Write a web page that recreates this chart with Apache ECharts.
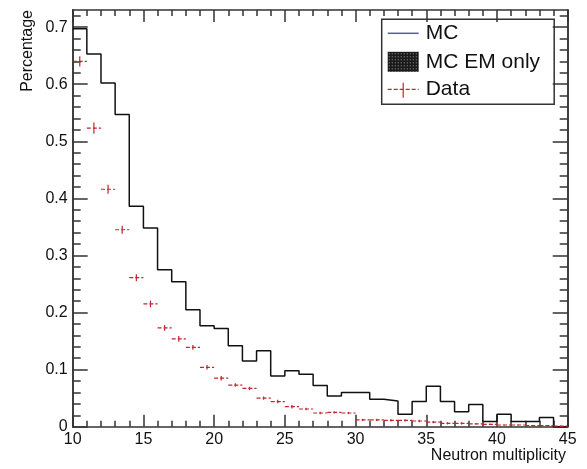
<!DOCTYPE html>
<html>
<head>
<meta charset="utf-8">
<script src="https://cdn.jsdelivr.net/npm/echarts@6/dist/echarts.min.js"></script>
<style>
  html, body { margin: 0; padding: 0; background: #fff; }
  #main { width: 587px; height: 469px; }
</style>
</head>
<body>
<div id="main"></div>
<script>
// bins are 1 wide, lower edges from 10 to 44
var binEdges = [10, 11, 12, 13, 14, 15, 16, 17, 18, 19, 20, 21, 22, 23, 24, 25, 26, 27,
    28, 29, 30, 31, 32, 33, 34, 35, 36, 37, 38, 39, 40, 41, 42, 43, 44, 45];
// MC histogram (black step line)
var mcValues = [0.697, 0.653, 0.602, 0.547, 0.386, 0.348, 0.275, 0.254, 0.205, 0.177,
    0.172, 0.142, 0.115, 0.133, 0.089, 0.098, 0.092, 0.072, 0.054, 0.060,
    0.060, 0.048, 0.045, 0.022, 0.044, 0.071, 0.044, 0.026, 0.039, 0.009,
    0.022, 0.009, 0.009, 0.016, 0.000];
// Data points (red crosses) and their vertical errors
var dataValues = [0.640, 0.523, 0.416, 0.345, 0.261, 0.215, 0.173, 0.154, 0.139, 0.104,
    0.085, 0.073, 0.067, 0.050, 0.044, 0.035, 0.031, 0.024, 0.025, 0.024,
    0.012, 0.012, 0.011, 0.011, 0.010, 0.008, 0.006, 0.006, 0.005, 0.004,
    0.003, 0.003, 0.002, 0.002, 0.001];
var dataErrors = [0.009, 0.010, 0.008, 0.007, 0.006, 0.006, 0.005, 0.005, 0.004, 0.004,
    0.004, 0.003, 0.003, 0.003, 0.003, 0.003, 0.002, 0.002, 0.002, 0.002,
    0.002, 0.002, 0.002, 0.002, 0.002, 0.002, 0.002, 0.002, 0.001, 0.001,
    0.001, 0.001, 0.001, 0.001, 0.001];
// axis ticks
var yMajorTicks = [0, 0.1, 0.2, 0.3, 0.4, 0.5, 0.6, 0.7];
var yMinorTicks = [0.02, 0.04, 0.06, 0.08, 0.12, 0.14, 0.16, 0.18, 0.22, 0.24, 0.26, 0.28,
    0.32, 0.34, 0.36, 0.38, 0.42, 0.44, 0.46, 0.48, 0.52, 0.54, 0.56, 0.58,
    0.62, 0.64, 0.66, 0.68, 0.72];

var FONT = 'Liberation Sans, Arial, sans-serif';
var AXIS_COLOR = '#333';
var RED = '#c0262d';

var chart = echarts.init(document.getElementById('main'), null, { renderer: 'canvas' });

// step line points: left edge of every bin, plus the right edge of the last one
var mcLine = [];
for (var i = 0; i < mcValues.length; i++) {
    mcLine.push([binEdges[i], mcValues[i]]);
}
mcLine.push([binEdges[binEdges.length - 1], mcValues[mcValues.length - 1]]);

var dataPoints = [];
for (var j = 0; j < dataValues.length; j++) {
    var center = (binEdges[j] + binEdges[j + 1]) / 2;
    dataPoints.push([center, dataValues[j], dataErrors[j], binEdges[j], binEdges[j + 1]]);
}

// hatched fill for the "MC EM only" legend box
var hatch = document.createElement('canvas');
hatch.width = 3;
hatch.height = 3;
var hctx = hatch.getContext('2d');
hctx.fillStyle = '#1a1a1a';
hctx.fillRect(0, 0, 3, 3);
hctx.fillStyle = '#9a9a9a';
hctx.fillRect(1, 1, 1, 1);

function yAxisDef(position, ticks, len, withLabels) {
    return {
        type: 'value',
        position: position,
        min: 0,
        max: 0.73,
        splitLine: { show: false },
        axisLine: { show: true, lineStyle: { color: AXIS_COLOR, width: 1.5 } },
        axisTick: {
            show: true, inside: true, length: len, customValues: ticks,
            lineStyle: { color: AXIS_COLOR, width: 1.5 }
        },
        axisLabel: {
            show: withLabels, customValues: yMajorTicks, margin: 5,
            fontFamily: FONT, fontSize: 16, color: '#111',
            formatter: function(v) { return v === 0 ? '0' : String(+v.toFixed(1)); }
        }
    };
}

function xAxisDef(position, withLabels) {
    return {
        type: 'value',
        position: position,
        min: 10,
        max: 45,
        interval: 5,
        splitLine: { show: false },
        axisLine: { show: true, onZero: false, lineStyle: { color: AXIS_COLOR, width: 1.5 } },
        axisTick: { show: true, inside: true, length: 12, lineStyle: { color: AXIS_COLOR, width: 1.5 } },
        minorTick: { show: true, splitNumber: 5, length: 6, lineStyle: { color: AXIS_COLOR, width: 1.5 } },
        minorSplitLine: { show: false },
        axisLabel: {
            show: withLabels, margin: 5,
            fontFamily: FONT, fontSize: 16, color: '#111'
        }
    };
}

var option = {
    animation: false,
    backgroundColor: '#fff',
    grid: { left: 72.7, right: 19.3, top: 10, bottom: 42.3, containLabel: false },
    xAxis: [xAxisDef('bottom', true), xAxisDef('top', false)],
    yAxis: [
        yAxisDef('left', yMajorTicks, 15, true),
        yAxisDef('left', yMinorTicks, 8, false),
        yAxisDef('right', yMajorTicks, 15, false),
        yAxisDef('right', yMinorTicks, 8, false)
    ],
    series: [{
        name: 'MC',
        type: 'line',
        step: 'end',
        xAxisIndex: 0,
        yAxisIndex: 0,
        showSymbol: false,
        lineStyle: { color: '#111', width: 1.5 },
        data: mcLine,
        z: 3
    }, {
        name: 'Data',
        type: 'custom',
        xAxisIndex: 0,
        yAxisIndex: 0,
        data: dataPoints,
        z: 4,
        renderItem: function(params, api) {
            var y = api.value(1);
            var err = api.value(2);
            var left = api.coord([api.value(3), y]);
            var right = api.coord([api.value(4), y]);
            var top = api.coord([api.value(0), y + err]);
            var bottom = api.coord([api.value(0), y - err]);
            return {
                type: 'group',
                children: [{
                    type: 'line',
                    shape: { x1: left[0], y1: left[1], x2: right[0], y2: right[1] },
                    style: { stroke: RED, lineWidth: 1.2, lineDash: [4, 2] }
                }, {
                    type: 'line',
                    shape: { x1: top[0], y1: top[1], x2: bottom[0], y2: bottom[1] },
                    style: { stroke: RED, lineWidth: 1.2 }
                }]
            };
        }
    }],
    graphic: [
        // axis titles
        {
            type: 'text',
            x: 28, y: 10,
            rotation: Math.PI / 2,
            style: {
                text: 'Percentage', fontFamily: FONT, fontSize: 16, fill: '#111',
                align: 'right', verticalAlign: 'middle'
            }
        },
        {
            type: 'text',
            x: 566, y: 456,
            style: {
                text: 'Neutron multiplicity', fontFamily: FONT, fontSize: 16, fill: '#111',
                align: 'right', verticalAlign: 'middle'
            }
        },
        // legend
        {
            type: 'group',
            x: 381.7, y: 19.3,
            z: 10,
            children: [{
                type: 'rect',
                shape: { x: 0, y: 0, width: 172.5, height: 85 },
                style: { fill: '#fff', stroke: AXIS_COLOR, lineWidth: 1.5 }
            }, {
                type: 'line',
                shape: { x1: 6, y1: 14, x2: 37, y2: 14 },
                style: { stroke: '#5a5aa4', lineWidth: 1.5 }
            }, {
                type: 'text',
                x: 44, y: 14,
                style: { text: 'MC', fontFamily: FONT, fontSize: 21, fill: '#111', verticalAlign: 'middle' }
            }, {
                type: 'rect',
                shape: { x: 6, y: 32.5, width: 31, height: 20 },
                style: { fill: { image: hatch, repeat: 'repeat' } }
            }, {
                type: 'text',
                x: 44, y: 42.5,
                style: { text: 'MC EM only', fontFamily: FONT, fontSize: 21, fill: '#111', verticalAlign: 'middle' }
            }, {
                type: 'line',
                shape: { x1: 6, y1: 70, x2: 37, y2: 70 },
                style: { stroke: RED, lineWidth: 1.2, lineDash: [4, 2] }
            }, {
                type: 'line',
                shape: { x1: 21.5, y1: 63.5, x2: 21.5, y2: 78.5 },
                style: { stroke: RED, lineWidth: 1.2 }
            }, {
                type: 'text',
                x: 44, y: 70,
                style: { text: 'Data', fontFamily: FONT, fontSize: 21, fill: '#111', verticalAlign: 'middle' }
            }]
        }
    ]
};

chart.setOption(option);
</script>
</body>
</html>
